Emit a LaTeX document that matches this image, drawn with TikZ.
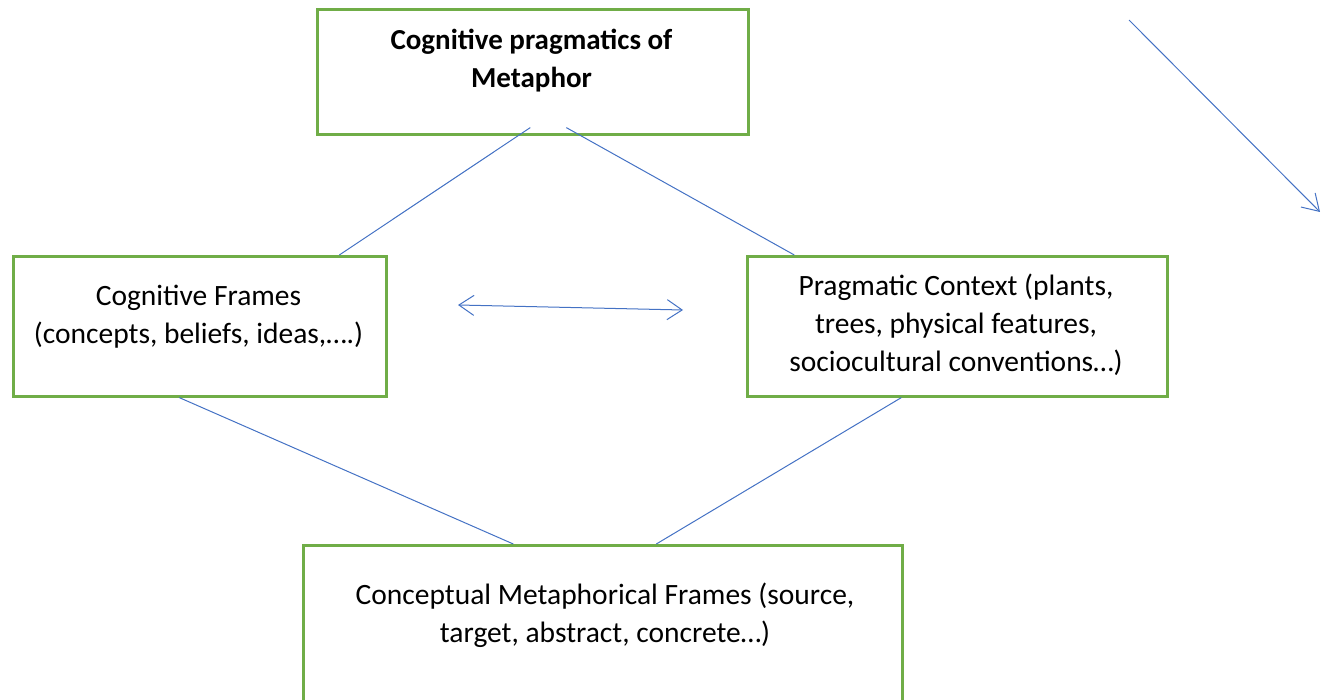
\documentclass[tikz,border=0pt]{standalone}
\usepackage{fontspec}
\setmainfont{Carlito}
\usetikzlibrary{arrows.meta,calc}
\definecolor{boxgreen}{HTML}{70AD47}
\definecolor{lineblue}{HTML}{4472C4}
\tikzstyle{gbox}=[rectangle, draw=boxgreen, line width=2.6pt, inner sep=0pt, anchor=north west]
\tikzstyle{btext}=[align=center, inner sep=0pt, anchor=base, font=\fontsize{29.5}{38}\selectfont]
\tikzstyle{link}=[lineblue, line width=1pt]

\begin{document}
\begin{tikzpicture}[x=1pt, y=-1pt]
\useasboundingbox (0,0) rectangle (1329,700);

\node[gbox, minimum width=431pt, minimum height=125pt] (top) at (316,8) {};
\node[btext, font=\fontsize{29}{38}\selectfont\bfseries] (topT) at (531.5,88) {Cognitive pragmatics of\\Metaphor};

\node[gbox, minimum width=373pt, minimum height=140pt] (cf) at (12,255) {};
\node[btext] (cfT) at (198.5,343) {Cognitive Frames\\(concepts, beliefs, ideas,\dots.)};

\node[gbox, minimum width=420pt, minimum height=140pt] (pc) at (746,255) {};
\node[btext] (pcT) at (956,371) {Pragmatic Context (plants,\\trees, physical features,\\sociocultural conventions…)};

\node[gbox, minimum width=599pt, minimum height=175pt] (cmf) at (302,544) {};
\node[btext] (cmfT) at (605,642) {Conceptual Metaphorical Frames (source,\\target, abstract, concrete…)};

\draw[link] ($(top.south)+(-2.5,-8)$) -- ($(cf.north)+(139.5,0)$);
\draw[link] ($(top.south)+(33.5,-8)$) -- ($(pc.north)+(-163,0)$);
\draw[link] ($(cf.south)+(-20.5,0)$) -- ($(cmf.north)+(-89.5,0)$);
\draw[link] ($(pc.south)+(-56,0)$) -- ($(cmf.north)+(53.5,0)$);

\coordinate (a1) at (458,305);
\coordinate (a2) at (683,310);
\draw[link, {Straight Barb[length=15pt,width=20pt]}-{Straight Barb[length=15pt,width=20pt]}] (a1) -- (a2);

\coordinate (d1) at (1129,20);
\coordinate (d2) at (1320,212);
\draw[link, -{Straight Barb[length=16pt,width=20pt]}] (d1) -- (d2);

\end{tikzpicture}
\end{document}
